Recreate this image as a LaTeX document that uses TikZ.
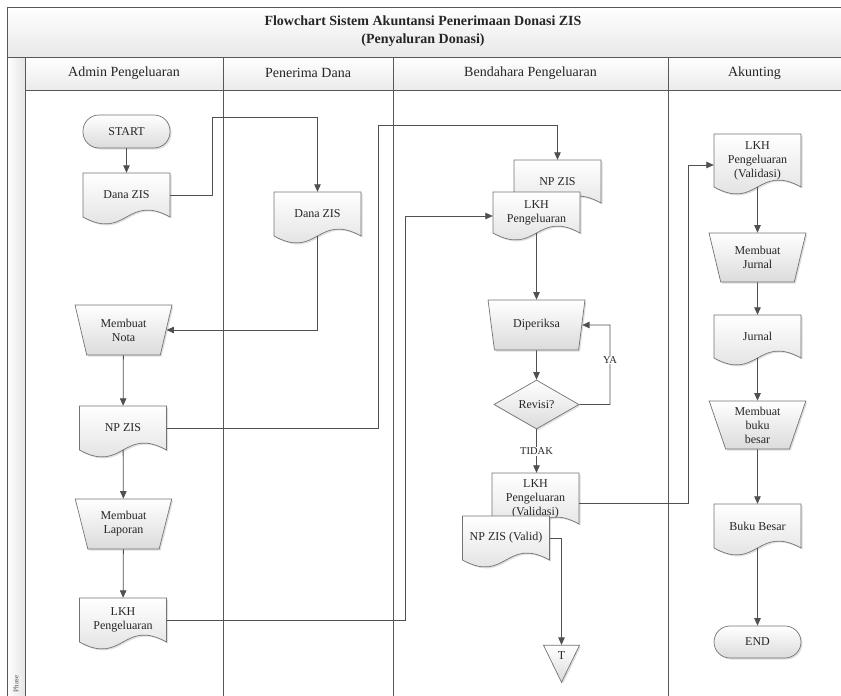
\documentclass[tikz,border=0pt]{standalone}
\usepackage{fontspec}
\setmainfont{Liberation Serif}
\usetikzlibrary{shapes.geometric,shadows,arrows.meta,calc}
\definecolor{ln}{HTML}{505050}
\definecolor{frm}{HTML}{585858}
% document symbol: name, centre x, top y, straight height, text
\newcommand\docnode[5]{%
  \pgfmathsetmacro\dxa{#2-43.5}\pgfmathsetmacro\dxb{#2+43.5}%
  \pgfmathsetmacro\dyb{#3+#4}\pgfmathsetmacro\dyc{#3+#4/2}%
  \pgfmathsetmacro\dyu{#3+#4-24}\pgfmathsetmacro\dyd{#3+#4+24}%
  \path[docshp] (\dxa,#3) -- (\dxb,#3) -- (\dxb,\dyb)
     .. controls (#2,\dyu) and (#2,\dyd) .. (\dxa,\dyb) -- cycle;
  \node[docbox, minimum height=#4pt] (#1) at (#2,\dyc) {#5};%
}
\begin{document}
\begin{tikzpicture}[x=1pt,y=-1pt,
  txt/.style={font=\fontsize{12}{14}\selectfont, align=center, text=black!85},
  fillshade/.style={draw=black!55, line width=0.7pt, top color=white, bottom color=black!14,
     drop shadow={shadow xshift=1.5pt, shadow yshift=-1.5pt, opacity=0.25}},
  shp/.style={txt, fillshade},
  docshp/.style={fillshade},
  docbox/.style={txt, rectangle, draw=none, minimum width=87pt, inner sep=0pt},
  term/.style={shp, rectangle, rounded corners=16pt, minimum width=87pt, minimum height=33pt, inner sep=0pt},
  manop/.style={shp, trapezium, shape border rotate=180, trapezium left angle=72, trapezium right angle=72,
     trapezium stretches=true, minimum width=97pt, minimum height=50pt, inner sep=0pt},
  decis/.style={shp, diamond, minimum width=85pt, minimum height=49pt, inner sep=0pt, aspect=1.7},
  conn/.style={draw=ln, line width=0.8pt, -{Triangle[length=7.5pt,width=6.5pt]}},
  frame/.style={draw=frm, line width=0.9pt},
  head/.style={font=\fontsize{14}{16}\selectfont, text=black!85},
  lbl/.style={font=\fontsize{10.5}{12}\selectfont, fill=white, inner sep=1pt, text=black!85},
]
\useasboundingbox (0,0) rectangle (841,696);
% ---------- swimlane frame ----------
\shade[top color=white, bottom color=black!9] (7,7) rectangle (841,57);
\shade[left color=white, right color=black!10] (7,57) rectangle (25,696);
\shade[top color=white, bottom color=black!8] (25,57) rectangle (841,90);
\draw[frame] (841,7) -- (7,7) -- (7,696);
\draw[frame] (7,57) -- (841,57);
\draw[frame] (25,57) -- (25,696);
\draw[frame] (25,90) -- (841,90);
\draw[frame] (223,57) -- (223,696);
\draw[frame] (393,57) -- (393,696);
\draw[frame] (668,57) -- (668,696);
\node[font=\bfseries\fontsize{14}{18}\selectfont, align=center, text=black!85] (title) at (423,31.5)
  {Flowchart Sistem Akuntansi Penerimaan Donasi ZIS\\(Penyaluran Donasi)};
\node[head] (h1) at (124,73) {Admin Pengeluaran};
\node[head] (h2) at (308,73) {Penerima Dana};
\node[head] (h3) at (530.5,73) {Bendahara Pengeluaran};
\node[head] (h4) at (754.5,73) {Akunting};
\node[rotate=90, font=\fontsize{7}{8}\selectfont, text=black!70] (phase) at (16,684) {Phase};
% ---------- Admin Pengeluaran ----------
\node[term] (start) at (126.5,131.5) {START};
\docnode{danaA}{126.5}{173}{44}{Dana ZIS}
\node[manop] (nota) at (123.5,330) {Membuat\\Nota};
\docnode{npA}{123}{406}{44}{NP ZIS}
\node[manop] (laporan) at (123.5,524) {Membuat\\Laporan};
\docnode{lkhA}{123}{598}{44}{LKH\\Pengeluaran}
% ---------- Penerima Dana ----------
\docnode{danaP}{317.5}{192}{44}{Dana ZIS}
% ---------- Bendahara Pengeluaran ----------
\docnode{npB}{557.5}{160}{43}{NP ZIS}
\docnode{lkhB}{536.5}{192}{41}{LKH\\Pengeluaran}
\node[manop] (diperiksa) at (536.5,325) {Diperiksa};
\node[decis] (revisi) at (536.5,404.5) {Revisi?};
\docnode{lkhVB}{535.5}{473}{51}{LKH\\Pengeluaran\\(Validasi)}
\docnode{npV}{506}{516}{44}{NP ZIS (Valid)}
\node[shp, isosceles triangle, shape border rotate=-90, isosceles triangle apex angle=54,
  isosceles triangle stretches, minimum width=36pt, minimum height=37pt, inner sep=1pt,
  anchor=apex] (T) at (561.5,683) {T};
% ---------- Akunting ----------
\docnode{lkhVA}{757.5}{134}{53}{LKH\\Pengeluaran\\(Validasi)}
\node[manop, minimum height=49pt] (jurnalM) at (757.5,257.5) {Membuat\\Jurnal};
\docnode{jurnal}{757.5}{315}{43}{Jurnal}
\node[manop, minimum height=48pt] (bukuM) at (757.5,425) {Membuat\\buku\\besar};
\docnode{bukubesar}{757.5}{504}{44}{Buku Besar}
\node[term, minimum height=32pt] (end) at (757.5,642) {END};
% ---------- connectors ----------
\draw[conn] (start) -- (danaA);
\draw[conn] (danaA.east) -| (212,117) -| (danaP.north);
\draw[conn] (danaP.south) |- (nota.east);
\draw[conn] (nota) -- (npA);
\draw[conn] (npA.east) -| (378,125) -| (npB.north);
\draw[conn] (npA) -- (laporan);
\draw[conn] (laporan) -- (lkhA);
\draw[conn] (lkhA.east) -| (405,216) -- (lkhB.west |- 0,216);
\draw[conn] (lkhB) -- (diperiksa);
\draw[conn] (diperiksa) -- (revisi);
\draw[conn] (revisi.east) -| (610,325) -- (diperiksa.east);
\node[lbl] (ya) at (610,360) {YA};
\draw[conn] (revisi.south) -- node[lbl] (tidak) {TIDAK} (lkhVB.north -| revisi.south);
\draw[conn] (lkhVB.east |- 0,503) -| (688,165) -- (lkhVA.west |- 0,165);
\draw[conn] (npV.east) -| (T.lower side);
\draw[conn] (lkhVA) -- (jurnalM);
\draw[conn] (jurnalM) -- (jurnal);
\draw[conn] (jurnal) -- (bukuM);
\draw[conn] (bukuM) -- (bukubesar);
\draw[conn] (bukubesar) -- (end);
\end{tikzpicture}
\end{document}
